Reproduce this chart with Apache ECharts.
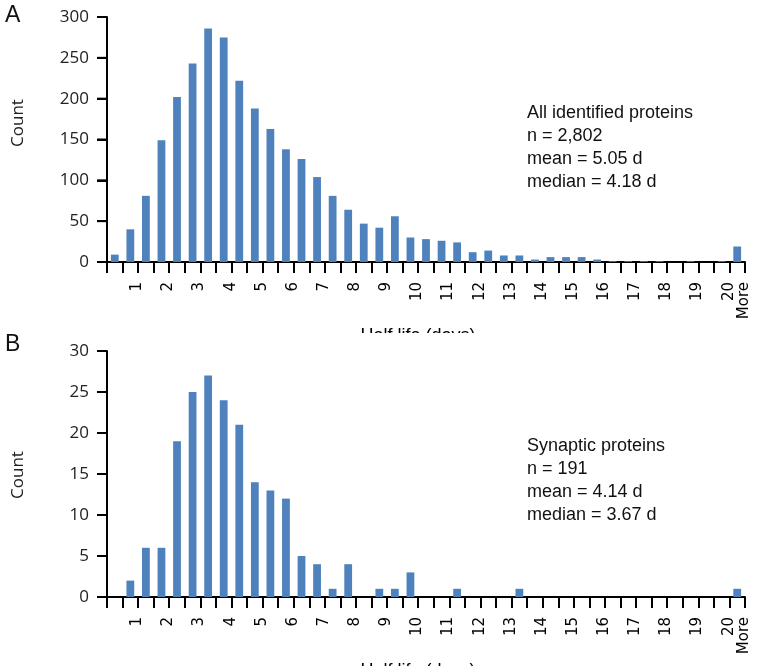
<!DOCTYPE html>
<html>
<head>
<meta charset="utf-8">
<script src="https://cdn.jsdelivr.net/npm/echarts@6/dist/echarts.min.js"></script>
<style>
  html, body { margin: 0; padding: 0; background: #fff; }
  .panel { width: 758px; height: 333px; }
</style>
</head>
<body>
<div class="panel" id="panelA"></div>
<div class="panel" id="panelB"></div>
<script>
// half-life bins (days), upper bound of each bin
const bins = ['0.5', '1', '1.5', '2', '2.5', '3', '3.5', '4', '4.5', '5',
  '5.5', '6', '6.5', '7', '7.5', '8', '8.5', '9', '9.5', '10',
  '10.5', '11', '11.5', '12', '12.5', '13', '13.5', '14', '14.5', '15',
  '15.5', '16', '16.5', '17', '17.5', '18', '18.5', '19', '19.5', '20', 'More'];

// A: all identified proteins
const allCounts = [9, 40, 81, 149, 202, 243, 286, 275, 222, 188,
  163, 138, 126, 104, 81, 64, 47, 42, 56, 30,
  28, 26, 24, 12, 14, 8, 8, 3, 6, 6,
  6, 3, 1, 1, 1, 1, 0, 1, 0, 1, 19];

// B: synaptic proteins
const synCounts = [0, 2, 6, 6, 19, 25, 27, 24, 21, 14,
  13, 12, 5, 4, 1, 4, 0, 1, 1, 3,
  0, 0, 1, 0, 0, 0, 1, 0, 0, 0,
  0, 0, 0, 0, 0, 0, 0, 0, 0, 0, 1];

const yTicksA = [0, 50, 100, 150, 200, 250, 300];
const yTicksB = [0, 5, 10, 15, 20, 25, 30];

const statsA = ['All identified proteins', 'n = 2,802', 'mean = 5.05 d', 'median = 4.18 d'];
const statsB = ['Synaptic proteins', 'n = 191', 'mean = 4.14 d', 'median = 3.67 d'];

const barColor = '#4f81bd';
const tickFont = 'DejaVu Sans';
const numFont = 'Open Sans';
const textFont = 'Liberation Sans, Arial, sans-serif';

function drawPanel(el, opt) {
  const chart = echarts.init(el);
  const ticks = opt.ticks;
  chart.setOption({
    animation: false,
    grid: { left: 107, width: 638, top: opt.top, height: opt.height, containLabel: false, outerBoundsMode: 'none' },
    xAxis: {
      type: 'category',
      data: bins,
      name: 'Half life (days)',
      nameLocation: 'middle',
      nameGap: opt.nameGap,
      nameTextStyle: { fontFamily: textFont, fontSize: 18, color: '#000', padding: [0, 16, 0, 0] },
      axisLine: { show: true, onZero: false, lineStyle: { color: '#000', width: 2 } },
      axisTick: { show: true, interval: 0, length: 11, lineStyle: { color: '#000', width: 2 } },
      axisLabel: {
        show: true,
        interval: function (idx, val) { return val.indexOf('.') < 0; },
        showMaxLabel: true,
        rotate: 90,
        margin: 20,
        verticalAlign: 'top',
        lineHeight: 14,
        fontFamily: tickFont,
        fontSize: 15,
        color: '#000'
      }
    },
    yAxis: {
      type: 'value',
      min: ticks[0],
      max: ticks[ticks.length - 1],
      interval: ticks[1] - ticks[0],
      splitLine: { show: false },
      axisLine: { show: true, onZero: false, lineStyle: { color: '#000', width: 2 } },
      axisTick: { show: true, length: 10, lineStyle: { color: '#000', width: 2 } },
      axisLabel: { margin: 18, fontFamily: numFont, fontSize: 17, color: '#222' }
    },
    series: [
      { type: 'bar', data: opt.data, barWidth: '50%', itemStyle: { color: barColor } }
    ]
  });

  // texts, plus the y axis line redrawn from the grid rect and the axis scale
  const graphics = [
    { id: 'letter', type: 'text', left: 5, top: opt.letterTop, style: { text: opt.letter, font: '23px ' + textFont, fill: '#111' } },
    { id: 'count', type: 'text', x: 18, y: opt.countY, rotation: Math.PI / 2,
      style: { text: 'Count', font: '17px ' + numFont, fill: '#222', align: 'center', verticalAlign: 'middle' } },
    { id: 'stats', type: 'text', left: 527, top: opt.statsTop,
      style: { text: opt.stats.join('\n'), font: '18px ' + textFont, lineHeight: 23, fill: '#111' } }
  ];
  try {
    const rect = chart.getModel().getComponent('grid', 0).coordinateSystem.getRect();
    const line = { stroke: '#000', lineWidth: 2 };
    graphics.push({ id: 'yline', type: 'line', z: 50,
      shape: { x1: rect.x, y1: rect.y, x2: rect.x, y2: rect.y + rect.height }, style: line });
    ticks.forEach(function (v, i) {
      const py = chart.convertToPixel({ yAxisIndex: 0 }, v);
      graphics.push({ id: 'ytick' + i, type: 'line', z: 50,
        shape: { x1: rect.x - 10, y1: py, x2: rect.x, y2: py }, style: line });
    });
  } catch (e) { /* axis line from ECharts only */ }
  chart.setOption({ graphic: graphics });
}

drawPanel(document.getElementById('panelA'), {
  data: allCounts, ticks: yTicksA, top: 17, height: 245, nameGap: 46,
  letter: 'A', letterTop: 4, countY: 123, stats: statsA, statsTop: 102
});
drawPanel(document.getElementById('panelB'), {
  data: synCounts, ticks: yTicksB, top: 18, height: 246, nameGap: 43,
  letter: 'B', letterTop: 0, countY: 142, stats: statsB, statsTop: 102
});
</script>
</body>
</html>
